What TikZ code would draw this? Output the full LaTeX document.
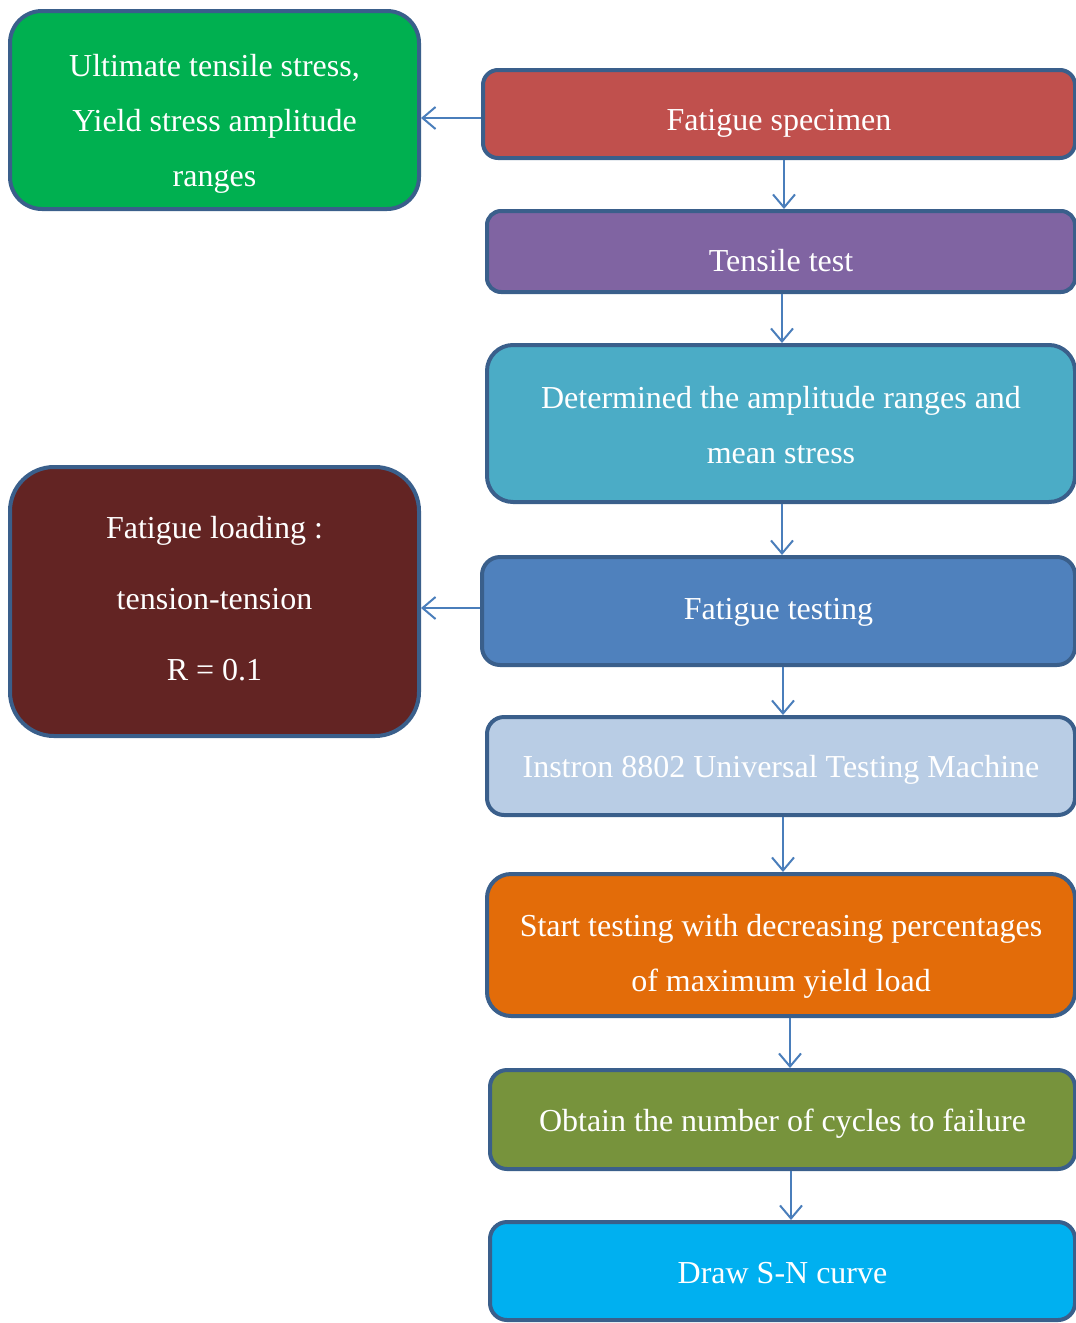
\documentclass[tikz,border=0pt]{standalone}
\usepackage{fontspec}
\setmainfont{Liberation Serif}
\usetikzlibrary{arrows.meta}

\definecolor{boxline}{HTML}{3A5F8B}
\definecolor{linkblue}{HTML}{4A7EBB}
\definecolor{propgreen}{HTML}{00B050}
\definecolor{specred}{HTML}{C0504D}
\definecolor{tenspurple}{HTML}{8064A2}
\definecolor{amplteal}{HTML}{4BACC6}
\definecolor{testblue}{HTML}{4F81BD}
\definecolor{loadred}{HTML}{632423}
\definecolor{machblue}{HTML}{B9CDE5}
\definecolor{startorange}{HTML}{E36C09}
\definecolor{cycleolive}{HTML}{77933C}
\definecolor{curvecyan}{HTML}{00B0F0}

% invisible struts to place the text in its box
\newcommand{\lift}[1]{\rule{0pt}{#1pt}}
\newcommand{\sink}[1]{\rule[-#1pt]{0pt}{#1pt}}

\begin{document}
\begin{tikzpicture}[x=1pt, y=-1pt,
        flowbox/.style={draw=boxline, line width=4pt, text=white, align=center,
            inner sep=0pt, font=\fontsize{32}{55}\selectfont},
        flowarrow/.style={draw=linkblue, line width=2pt,
            -{Straight Barb[length=13pt,width=22pt]}}]
    \useasboundingbox (0,0) rectangle (1076,1323);

    % left column
    \node[flowbox, fill=propgreen, minimum width=409pt, minimum height=198pt, rounded corners=32pt]
        (props) at (214.5,110) {\lift{50}Ultimate tensile stress,\\Yield stress amplitude\\ranges};
    \node[flowbox, fill=loadred, minimum width=409pt, minimum height=269pt, rounded corners=44pt,
        font=\fontsize{32}{71}\selectfont]
        (loading) at (214.5,601.5) {Fatigue loading :\\tension-tension\\R = 0.1\sink{6}};

    % right column
    \node[flowbox, fill=specred, minimum width=592pt, minimum height=88pt, rounded corners=15pt]
        (specimen) at (779,114) {\lift{39}Fatigue specimen};
    \node[flowbox, fill=tenspurple, minimum width=588pt, minimum height=81pt, rounded corners=14pt]
        (tensile) at (781,251.5) {\lift{40}Tensile test};
    \node[flowbox, fill=amplteal, minimum width=588pt, minimum height=157pt, rounded corners=26pt]
        (amplitude) at (781,423.5) {\lift{25}Determined the amplitude ranges and\\mean stress};
    \node[flowbox, fill=testblue, minimum width=593pt, minimum height=108pt, rounded corners=18pt]
        (fatiguetest) at (778.5,611) {\lift{24}Fatigue testing};
    \node[flowbox, fill=machblue, minimum width=588pt, minimum height=98pt, rounded corners=17pt]
        (instron) at (781,766) {\lift{30}Instron 8802 Universal Testing Machine};
    \node[flowbox, fill=startorange, minimum width=588pt, minimum height=142pt, rounded corners=24pt]
        (decreasing) at (781,945) {\lift{45.6}Start testing with decreasing percentages\\of maximum yield load};
    \node[flowbox, fill=cycleolive, minimum width=585pt, minimum height=99pt, rounded corners=17pt]
        (cycles) at (782.5,1119.5) {\lift{31}Obtain the number of cycles to failure};
    \node[flowbox, fill=curvecyan, minimum width=585pt, minimum height=98pt, rounded corners=17pt]
        (sncurve) at (782.5,1271) {\lift{25}Draw S-N curve};

    % connectors
    \draw[flowarrow] ([yshift=-4pt]specimen.west) -- ([yshift=-8pt]props.east);
    \draw[flowarrow] ([yshift=3pt]fatiguetest.west) -- ([yshift=-6.5pt]loading.east);

    \draw[flowarrow] ([xshift=5pt]specimen.south) -- ([xshift=3pt]tensile.north);
    \draw[flowarrow] ([xshift=1pt]tensile.south) -- ([xshift=1pt]amplitude.north);
    \draw[flowarrow] ([xshift=1pt]amplitude.south) -- ([xshift=3.5pt]fatiguetest.north);
    \draw[flowarrow] ([xshift=4.5pt]fatiguetest.south) -- ([xshift=2pt]instron.north);
    \draw[flowarrow] ([xshift=2pt]instron.south) -- ([xshift=2pt]decreasing.north);
    \draw[flowarrow] ([xshift=9pt]decreasing.south) -- ([xshift=7.5pt]cycles.north);
    \draw[flowarrow] ([xshift=8.5pt]cycles.south) -- ([xshift=8.5pt]sncurve.north);
\end{tikzpicture}
\end{document}
